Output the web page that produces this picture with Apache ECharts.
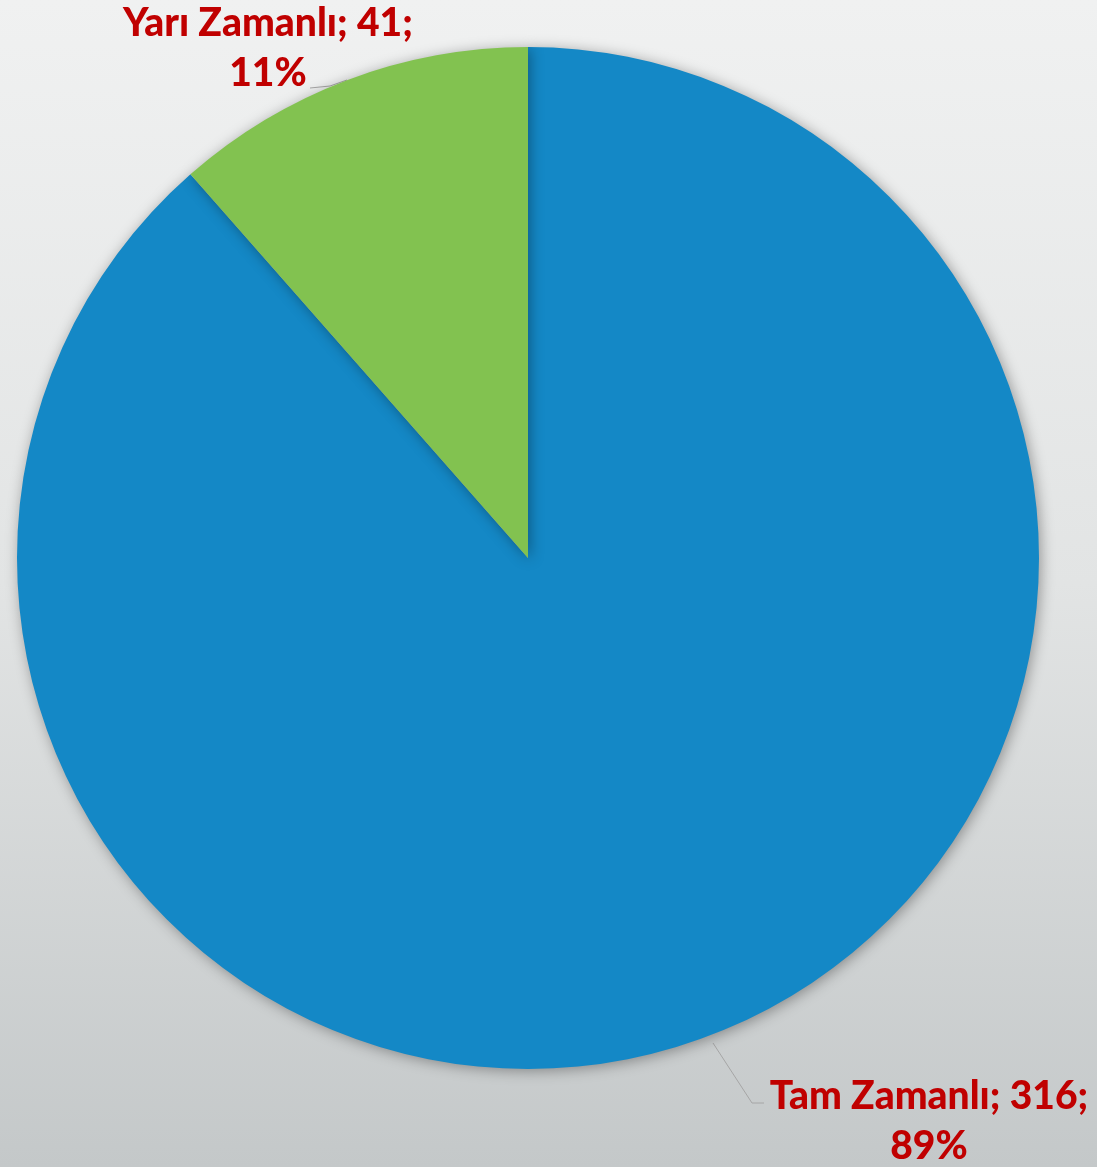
<!DOCTYPE html>
<html>
<head>
<meta charset="utf-8">
<script src="https://cdn.jsdelivr.net/npm/echarts@6/dist/echarts.min.js"></script>
<style>
  html, body { margin: 0; padding: 0; }
  #chart { width: 1097px; height: 1167px; }
</style>
</head>
<body>
<div id="chart"></div>
<script>
  // çalışma şekli verisi
  const categories = ["Tam Zamanlı", "Yarı Zamanlı"];
  const values = [316, 41];
  const colors = ["#1488c6", "#82c250"];

  // etiket yerleri ve kılavuz çizgileri (piksel)
  const labelSpots = [
    { x: 929, y: 1121 },
    { x: 268, y: 48 },
  ];
  const leaderLines = [
    [[713, 1043], [752, 1103], [764, 1103]],
    [[347, 80], [330, 86], [310, 88]],
  ];

  const chart = echarts.init(document.getElementById("chart"));

  const option = {
    backgroundColor: {
      type: "linear",
      x: 0, y: 0, x2: 0, y2: 1,
      colorStops: [
        { offset: 0, color: "#f0f1f1" },
        { offset: 0.5, color: "#e2e4e4" },
        { offset: 1, color: "#c4c8c9" },
      ],
    },
    animation: false,
    series: [
      {
        type: "pie",
        center: [528, 558],
        radius: [0, 511],
        startAngle: 90,
        clockwise: true,
        percentPrecision: 0,
        data: categories.map((name, i) => ({
          name: name,
          value: values[i],
          itemStyle: { color: colors[i] },
        })),
        itemStyle: {
          shadowBlur: 14,
          shadowColor: "rgba(0,0,0,0.35)",
          shadowOffsetX: 2,
          shadowOffsetY: 2,
        },
        label: {
          show: true,
          formatter: "{b}; {c};\n{d}%",
          color: "#c00000",
          fontFamily: "Lato",
          fontWeight: 900,
          fontSize: 39,
          lineHeight: 50,
          align: "center",
        },
        labelLine: {
          show: true,
          lineStyle: { color: "#a6a6a6", width: 1 },
        },
        labelLayout: (params) => {
          const i = params.dataIndex;
          return {
            x: labelSpots[i].x,
            y: labelSpots[i].y,
            align: "center",
            verticalAlign: "middle",
            labelLinePoints: leaderLines[i],
          };
        },
      },
    ],
  };

  chart.setOption(option);
  window.addEventListener("resize", () => chart.resize());
</script>
</body>
</html>
